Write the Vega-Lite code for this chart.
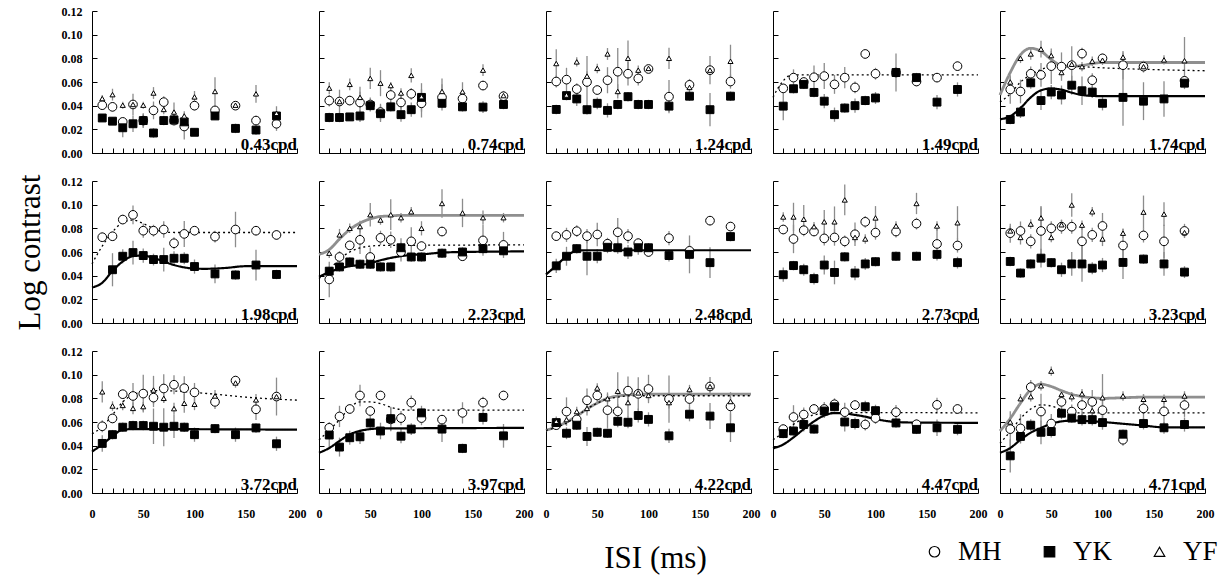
{
"$schema":"https://vega.github.io/schema/vega-lite/v6.json",
"background":"white",
"padding":{"left":14,"top":5,"right":5,"bottom":5},
"datasets":{
"labs":[{"p":1,"t":"0.43cpd"},{"p":2,"t":"0.74cpd"},{"p":3,"t":"1.24cpd"},{"p":4,"t":"1.49cpd"},{"p":5,"t":"1.74cpd"},{"p":6,"t":"1.98cpd"},{"p":7,"t":"2.23cpd"},{"p":8,"t":"2.48cpd"},{"p":9,"t":"2.73cpd"},{"p":10,"t":"3.23cpd"},{"p":11,"t":"3.72cpd"},{"p":12,"t":"3.97cpd"},{"p":13,"t":"4.22cpd"},{"p":14,"t":"4.47cpd"},{"p":15,"t":"4.71cpd"}],
"fit":[
{"p":4,"s":"MH","x":0,"y":0.047},{"p":4,"s":"MH","x":5,"y":0.055},{"p":4,"s":"MH","x":10,"y":0.061},{"p":4,"s":"MH","x":15,"y":0.065},{"p":4,"s":"MH","x":20,"y":0.066},{"p":4,"s":"MH","x":30,"y":0.066},{"p":4,"s":"MH","x":200,"y":0.066},
{"p":5,"s":"YF","x":0,"y":0.049},{"p":5,"s":"YF","x":10,"y":0.068},{"p":5,"s":"YF","x":20,"y":0.083},{"p":5,"s":"YF","x":30,"y":0.0885},{"p":5,"s":"YF","x":40,"y":0.086},{"p":5,"s":"YF","x":50,"y":0.079},{"p":5,"s":"YF","x":60,"y":0.074},{"p":5,"s":"YF","x":70,"y":0.073},{"p":5,"s":"YF","x":80,"y":0.074},{"p":5,"s":"YF","x":100,"y":0.0765},{"p":5,"s":"YF","x":120,"y":0.0765},{"p":5,"s":"YF","x":200,"y":0.0765},
{"p":5,"s":"MH","x":0,"y":0.043},{"p":5,"s":"MH","x":10,"y":0.05},{"p":5,"s":"MH","x":20,"y":0.06},{"p":5,"s":"MH","x":30,"y":0.066},{"p":5,"s":"MH","x":40,"y":0.0705},{"p":5,"s":"MH","x":50,"y":0.073},{"p":5,"s":"MH","x":60,"y":0.0735},{"p":5,"s":"MH","x":70,"y":0.0735},{"p":5,"s":"MH","x":80,"y":0.073},{"p":5,"s":"MH","x":100,"y":0.072},{"p":5,"s":"MH","x":150,"y":0.0705},{"p":5,"s":"MH","x":200,"y":0.0695},
{"p":5,"s":"YK","x":0,"y":0.0285},{"p":5,"s":"YK","x":10,"y":0.031},{"p":5,"s":"YK","x":20,"y":0.038},{"p":5,"s":"YK","x":30,"y":0.047},{"p":5,"s":"YK","x":40,"y":0.053},{"p":5,"s":"YK","x":50,"y":0.0545},{"p":5,"s":"YK","x":60,"y":0.0535},{"p":5,"s":"YK","x":70,"y":0.051},{"p":5,"s":"YK","x":80,"y":0.049},{"p":5,"s":"YK","x":90,"y":0.0483},{"p":5,"s":"YK","x":100,"y":0.048},{"p":5,"s":"YK","x":200,"y":0.048},
{"p":6,"s":"MH","x":0,"y":0.05},{"p":6,"s":"MH","x":10,"y":0.065},{"p":6,"s":"MH","x":20,"y":0.077},{"p":6,"s":"MH","x":30,"y":0.085},{"p":6,"s":"MH","x":40,"y":0.087},{"p":6,"s":"MH","x":50,"y":0.084},{"p":6,"s":"MH","x":60,"y":0.08},{"p":6,"s":"MH","x":70,"y":0.077},{"p":6,"s":"MH","x":80,"y":0.0765},{"p":6,"s":"MH","x":100,"y":0.0765},{"p":6,"s":"MH","x":200,"y":0.0765},
{"p":6,"s":"YK","x":0,"y":0.03},{"p":6,"s":"YK","x":10,"y":0.034},{"p":6,"s":"YK","x":20,"y":0.044},{"p":6,"s":"YK","x":30,"y":0.052},{"p":6,"s":"YK","x":40,"y":0.0565},{"p":6,"s":"YK","x":50,"y":0.057},{"p":6,"s":"YK","x":60,"y":0.055},{"p":6,"s":"YK","x":70,"y":0.052},{"p":6,"s":"YK","x":80,"y":0.049},{"p":6,"s":"YK","x":90,"y":0.047},{"p":6,"s":"YK","x":100,"y":0.046},{"p":6,"s":"YK","x":110,"y":0.0458},{"p":6,"s":"YK","x":130,"y":0.0465},{"p":6,"s":"YK","x":150,"y":0.048},{"p":6,"s":"YK","x":200,"y":0.048},
{"p":7,"s":"YF","x":0,"y":0.058},{"p":7,"s":"YF","x":10,"y":0.062},{"p":7,"s":"YF","x":20,"y":0.071},{"p":7,"s":"YF","x":30,"y":0.079},{"p":7,"s":"YF","x":40,"y":0.0845},{"p":7,"s":"YF","x":50,"y":0.088},{"p":7,"s":"YF","x":60,"y":0.09},{"p":7,"s":"YF","x":70,"y":0.0905},{"p":7,"s":"YF","x":80,"y":0.091},{"p":7,"s":"YF","x":200,"y":0.091},
{"p":7,"s":"MH","x":0,"y":0.0377},{"p":7,"s":"MH","x":10,"y":0.045},{"p":7,"s":"MH","x":20,"y":0.054},{"p":7,"s":"MH","x":30,"y":0.06},{"p":7,"s":"MH","x":40,"y":0.0635},{"p":7,"s":"MH","x":50,"y":0.065},{"p":7,"s":"MH","x":60,"y":0.0655},{"p":7,"s":"MH","x":200,"y":0.066},
{"p":7,"s":"YK","x":0,"y":0.039},{"p":7,"s":"YK","x":10,"y":0.043},{"p":7,"s":"YK","x":20,"y":0.046},{"p":7,"s":"YK","x":30,"y":0.048},{"p":7,"s":"YK","x":40,"y":0.049},{"p":7,"s":"YK","x":50,"y":0.0505},{"p":7,"s":"YK","x":60,"y":0.053},{"p":7,"s":"YK","x":70,"y":0.055},{"p":7,"s":"YK","x":80,"y":0.0565},{"p":7,"s":"YK","x":90,"y":0.0575},{"p":7,"s":"YK","x":100,"y":0.058},{"p":7,"s":"YK","x":120,"y":0.0595},{"p":7,"s":"YK","x":140,"y":0.06},{"p":7,"s":"YK","x":200,"y":0.0605},
{"p":8,"s":"YK","x":0,"y":0.041},{"p":8,"s":"YK","x":10,"y":0.0485},{"p":8,"s":"YK","x":20,"y":0.0565},{"p":8,"s":"YK","x":30,"y":0.061},{"p":8,"s":"YK","x":40,"y":0.0615},{"p":8,"s":"YK","x":200,"y":0.0615},
{"p":11,"s":"MH","x":0,"y":0.05},{"p":11,"s":"MH","x":10,"y":0.056},{"p":11,"s":"MH","x":20,"y":0.066},{"p":11,"s":"MH","x":30,"y":0.077},{"p":11,"s":"MH","x":40,"y":0.083},{"p":11,"s":"MH","x":50,"y":0.0855},{"p":11,"s":"MH","x":60,"y":0.0865},{"p":11,"s":"MH","x":70,"y":0.0865},{"p":11,"s":"MH","x":80,"y":0.0862},{"p":11,"s":"MH","x":100,"y":0.085},{"p":11,"s":"MH","x":120,"y":0.0835},{"p":11,"s":"MH","x":150,"y":0.081},{"p":11,"s":"MH","x":200,"y":0.0785},
{"p":11,"s":"YK","x":0,"y":0.035},{"p":11,"s":"YK","x":10,"y":0.041},{"p":11,"s":"YK","x":20,"y":0.048},{"p":11,"s":"YK","x":30,"y":0.0535},{"p":11,"s":"YK","x":40,"y":0.054},{"p":11,"s":"YK","x":200,"y":0.0535},
{"p":12,"s":"MH","x":0,"y":0.045},{"p":12,"s":"MH","x":10,"y":0.053},{"p":12,"s":"MH","x":20,"y":0.062},{"p":12,"s":"MH","x":30,"y":0.072},{"p":12,"s":"MH","x":40,"y":0.077},{"p":12,"s":"MH","x":50,"y":0.077},{"p":12,"s":"MH","x":60,"y":0.0755},{"p":12,"s":"MH","x":70,"y":0.0725},{"p":12,"s":"MH","x":80,"y":0.0705},{"p":12,"s":"MH","x":90,"y":0.07},{"p":12,"s":"MH","x":200,"y":0.07},
{"p":12,"s":"YK","x":0,"y":0.034},{"p":12,"s":"YK","x":10,"y":0.038},{"p":12,"s":"YK","x":20,"y":0.044},{"p":12,"s":"YK","x":30,"y":0.0495},{"p":12,"s":"YK","x":40,"y":0.0525},{"p":12,"s":"YK","x":50,"y":0.054},{"p":12,"s":"YK","x":60,"y":0.0545},{"p":12,"s":"YK","x":200,"y":0.055},
{"p":13,"s":"YF","x":0,"y":0.053},{"p":13,"s":"YF","x":10,"y":0.056},{"p":13,"s":"YF","x":20,"y":0.06},{"p":13,"s":"YF","x":30,"y":0.065},{"p":13,"s":"YF","x":40,"y":0.071},{"p":13,"s":"YF","x":50,"y":0.076},{"p":13,"s":"YF","x":60,"y":0.08},{"p":13,"s":"YF","x":70,"y":0.082},{"p":13,"s":"YF","x":80,"y":0.083},{"p":13,"s":"YF","x":90,"y":0.0835},{"p":13,"s":"YF","x":200,"y":0.0835},
{"p":13,"s":"MH","x":0,"y":0.053},{"p":13,"s":"MH","x":10,"y":0.0555},{"p":13,"s":"MH","x":20,"y":0.059},{"p":13,"s":"MH","x":30,"y":0.065},{"p":13,"s":"MH","x":40,"y":0.071},{"p":13,"s":"MH","x":50,"y":0.076},{"p":13,"s":"MH","x":60,"y":0.0795},{"p":13,"s":"MH","x":70,"y":0.081},{"p":13,"s":"MH","x":80,"y":0.082},{"p":13,"s":"MH","x":100,"y":0.0822},{"p":13,"s":"MH","x":200,"y":0.0822},
{"p":14,"s":"MH","x":0,"y":0.045},{"p":14,"s":"MH","x":10,"y":0.051},{"p":14,"s":"MH","x":20,"y":0.058},{"p":14,"s":"MH","x":30,"y":0.063},{"p":14,"s":"MH","x":40,"y":0.066},{"p":14,"s":"MH","x":50,"y":0.0675},{"p":14,"s":"MH","x":60,"y":0.068},{"p":14,"s":"MH","x":200,"y":0.0677},
{"p":14,"s":"YK","x":0,"y":0.0377},{"p":14,"s":"YK","x":10,"y":0.041},{"p":14,"s":"YK","x":20,"y":0.047},{"p":14,"s":"YK","x":30,"y":0.054},{"p":14,"s":"YK","x":40,"y":0.0605},{"p":14,"s":"YK","x":50,"y":0.0655},{"p":14,"s":"YK","x":60,"y":0.0675},{"p":14,"s":"YK","x":70,"y":0.0672},{"p":14,"s":"YK","x":80,"y":0.066},{"p":14,"s":"YK","x":90,"y":0.0645},{"p":14,"s":"YK","x":100,"y":0.0625},{"p":14,"s":"YK","x":120,"y":0.06},{"p":14,"s":"YK","x":140,"y":0.0595},{"p":14,"s":"YK","x":200,"y":0.0593},
{"p":15,"s":"YF","x":0,"y":0.0524},{"p":15,"s":"YF","x":10,"y":0.063},{"p":15,"s":"YF","x":20,"y":0.076},{"p":15,"s":"YF","x":30,"y":0.0875},{"p":15,"s":"YF","x":40,"y":0.092},{"p":15,"s":"YF","x":50,"y":0.09},{"p":15,"s":"YF","x":60,"y":0.0865},{"p":15,"s":"YF","x":70,"y":0.0835},{"p":15,"s":"YF","x":80,"y":0.0815},{"p":15,"s":"YF","x":90,"y":0.0805},{"p":15,"s":"YF","x":100,"y":0.08},{"p":15,"s":"YF","x":120,"y":0.0805},{"p":15,"s":"YF","x":140,"y":0.081},{"p":15,"s":"YF","x":200,"y":0.081},
{"p":15,"s":"MH","x":0,"y":0.042},{"p":15,"s":"MH","x":10,"y":0.052},{"p":15,"s":"MH","x":20,"y":0.063},{"p":15,"s":"MH","x":30,"y":0.071},{"p":15,"s":"MH","x":40,"y":0.0745},{"p":15,"s":"MH","x":50,"y":0.0735},{"p":15,"s":"MH","x":60,"y":0.0705},{"p":15,"s":"MH","x":70,"y":0.068},{"p":15,"s":"MH","x":80,"y":0.0677},{"p":15,"s":"MH","x":200,"y":0.0677},
{"p":15,"s":"YK","x":0,"y":0.034},{"p":15,"s":"YK","x":10,"y":0.038},{"p":15,"s":"YK","x":20,"y":0.045},{"p":15,"s":"YK","x":30,"y":0.051},{"p":15,"s":"YK","x":40,"y":0.055},{"p":15,"s":"YK","x":50,"y":0.0585},{"p":15,"s":"YK","x":60,"y":0.0605},{"p":15,"s":"YK","x":70,"y":0.0612},{"p":15,"s":"YK","x":80,"y":0.061},{"p":15,"s":"YK","x":100,"y":0.06},{"p":15,"s":"YK","x":120,"y":0.0585},{"p":15,"s":"YK","x":140,"y":0.057},{"p":15,"s":"YK","x":160,"y":0.0555},{"p":15,"s":"YK","x":200,"y":0.0555}
],
"pts":[
{"p":1,"s":"MH","x":10,"y":0.0404,"e":0.004},{"p":1,"s":"MH","x":20,"y":0.039,"e":0.004},{"p":1,"s":"MH","x":30,"y":0.0263,"e":0.003},{"p":1,"s":"MH","x":40,"y":0.041,"e":0.009},{"p":1,"s":"MH","x":50,"y":0.0274,"e":0.006},{"p":1,"s":"MH","x":60,"y":0.036,"e":0.0075},{"p":1,"s":"MH","x":70,"y":0.043,"e":0.005},{"p":1,"s":"MH","x":80,"y":0.0274,"e":0.004},{"p":1,"s":"MH","x":90,"y":0.0224,"e":0.011},{"p":1,"s":"MH","x":100,"y":0.04,"e":0.004},{"p":1,"s":"MH","x":120,"y":0.036,"e":0.004},{"p":1,"s":"MH","x":140,"y":0.04,"e":0.003},{"p":1,"s":"MH","x":160,"y":0.0274,"e":0.004},{"p":1,"s":"MH","x":180,"y":0.0247,"e":0.006},
{"p":1,"s":"YK","x":10,"y":0.0296,"e":0.003},{"p":1,"s":"YK","x":20,"y":0.0269,"e":0.003},{"p":1,"s":"YK","x":30,"y":0.0213,"e":0.008},{"p":1,"s":"YK","x":40,"y":0.0247,"e":0.007},{"p":1,"s":"YK","x":50,"y":0.0274,"e":0.006},{"p":1,"s":"YK","x":60,"y":0.0169,"e":0.004},{"p":1,"s":"YK","x":70,"y":0.0274,"e":0.004},{"p":1,"s":"YK","x":80,"y":0.028,"e":0.004},{"p":1,"s":"YK","x":90,"y":0.0263,"e":0.004},{"p":1,"s":"YK","x":100,"y":0.0175,"e":0.003},{"p":1,"s":"YK","x":120,"y":0.0313,"e":0.003},{"p":1,"s":"YK","x":140,"y":0.0208,"e":0.004},{"p":1,"s":"YK","x":160,"y":0.0194,"e":0.004},{"p":1,"s":"YK","x":180,"y":0.0313,"e":0.004},
{"p":1,"s":"YF","x":10,"y":0.046,"e":0.003},{"p":1,"s":"YF","x":20,"y":0.0493,"e":0.005},{"p":1,"s":"YF","x":30,"y":0.0404,"e":0.003},{"p":1,"s":"YF","x":40,"y":0.041,"e":0.003},{"p":1,"s":"YF","x":50,"y":0.0404,"e":0.003},{"p":1,"s":"YF","x":60,"y":0.0507,"e":0.005},{"p":1,"s":"YF","x":70,"y":0.0368,"e":0.004},{"p":1,"s":"YF","x":80,"y":0.0346,"e":0.008},{"p":1,"s":"YF","x":90,"y":0.0313,"e":0.004},{"p":1,"s":"YF","x":100,"y":0.0474,"e":0.005},{"p":1,"s":"YF","x":120,"y":0.052,"e":0.012},{"p":1,"s":"YF","x":140,"y":0.0404,"e":0.003},{"p":1,"s":"YF","x":160,"y":0.05,"e":0.0075},{"p":1,"s":"YF","x":180,"y":0.0335,"e":0.006},
{"p":2,"s":"MH","x":10,"y":0.0443,"e":0.005},{"p":2,"s":"MH","x":20,"y":0.0435,"e":0.01},{"p":2,"s":"MH","x":30,"y":0.0443,"e":0.004},{"p":2,"s":"MH","x":40,"y":0.0427,"e":0.009},{"p":2,"s":"MH","x":50,"y":0.041,"e":0.006},{"p":2,"s":"MH","x":60,"y":0.0346,"e":0.007},{"p":2,"s":"MH","x":70,"y":0.049,"e":0.006},{"p":2,"s":"MH","x":80,"y":0.0427,"e":0.006},{"p":2,"s":"MH","x":90,"y":0.05,"e":0.005},{"p":2,"s":"MH","x":100,"y":0.042,"e":0.012},{"p":2,"s":"MH","x":120,"y":0.047,"e":0.011},{"p":2,"s":"MH","x":140,"y":0.046,"e":0.005},{"p":2,"s":"MH","x":160,"y":0.057,"e":0.004},{"p":2,"s":"MH","x":180,"y":0.048,"e":0.004},
{"p":2,"s":"YK","x":10,"y":0.03,"e":0.004},{"p":2,"s":"YK","x":20,"y":0.03,"e":0.004},{"p":2,"s":"YK","x":30,"y":0.0305,"e":0.003},{"p":2,"s":"YK","x":40,"y":0.0313,"e":0.005},{"p":2,"s":"YK","x":50,"y":0.04,"e":0.004},{"p":2,"s":"YK","x":60,"y":0.0332,"e":0.007},{"p":2,"s":"YK","x":70,"y":0.039,"e":0.004},{"p":2,"s":"YK","x":80,"y":0.0324,"e":0.006},{"p":2,"s":"YK","x":90,"y":0.0366,"e":0.006},{"p":2,"s":"YK","x":100,"y":0.047,"e":0.012},{"p":2,"s":"YK","x":120,"y":0.042,"e":0.004},{"p":2,"s":"YK","x":140,"y":0.039,"e":0.004},{"p":2,"s":"YK","x":160,"y":0.0388,"e":0.005},{"p":2,"s":"YK","x":180,"y":0.041,"e":0.004},
{"p":2,"s":"YF","x":10,"y":0.0548,"e":0.005},{"p":2,"s":"YF","x":20,"y":0.0435,"e":0.003},{"p":2,"s":"YF","x":30,"y":0.058,"e":0.005},{"p":2,"s":"YF","x":40,"y":0.047,"e":0.009},{"p":2,"s":"YF","x":50,"y":0.063,"e":0.009},{"p":2,"s":"YF","x":60,"y":0.059,"e":0.011},{"p":2,"s":"YF","x":70,"y":0.057,"e":0.003},{"p":2,"s":"YF","x":80,"y":0.0507,"e":0.004},{"p":2,"s":"YF","x":90,"y":0.0656,"e":0.006},{"p":2,"s":"YF","x":100,"y":0.0476,"e":0.003},{"p":2,"s":"YF","x":120,"y":0.052,"e":0.011},{"p":2,"s":"YF","x":140,"y":0.0518,"e":0.008},{"p":2,"s":"YF","x":160,"y":0.07,"e":0.005},{"p":2,"s":"YF","x":180,"y":0.0485,"e":0.004},
{"p":3,"s":"MH","x":10,"y":0.0604,"e":0.005},{"p":3,"s":"MH","x":20,"y":0.062,"e":0.01},{"p":3,"s":"MH","x":30,"y":0.054,"e":0.005},{"p":3,"s":"MH","x":40,"y":0.06,"e":0.022},{"p":3,"s":"MH","x":50,"y":0.0532,"e":0.004},{"p":3,"s":"MH","x":60,"y":0.0615,"e":0.011},{"p":3,"s":"MH","x":70,"y":0.0687,"e":0.02},{"p":3,"s":"MH","x":80,"y":0.067,"e":0.01},{"p":3,"s":"MH","x":90,"y":0.063,"e":0.006},{"p":3,"s":"MH","x":100,"y":0.071,"e":0.002},{"p":3,"s":"MH","x":120,"y":0.0476,"e":0.014},{"p":3,"s":"MH","x":140,"y":0.0576,"e":0.005},{"p":3,"s":"MH","x":160,"y":0.07,"e":0.012},{"p":3,"s":"MH","x":180,"y":0.0604,"e":0.006},
{"p":3,"s":"YK","x":10,"y":0.0368,"e":0.004},{"p":3,"s":"YK","x":20,"y":0.0485,"e":0.004},{"p":3,"s":"YK","x":30,"y":0.0457,"e":0.006},{"p":3,"s":"YK","x":40,"y":0.0366,"e":0.004},{"p":3,"s":"YK","x":50,"y":0.042,"e":0.005},{"p":3,"s":"YK","x":60,"y":0.036,"e":0.006},{"p":3,"s":"YK","x":70,"y":0.041,"e":0.004},{"p":3,"s":"YK","x":80,"y":0.0476,"e":0.004},{"p":3,"s":"YK","x":90,"y":0.041,"e":0.004},{"p":3,"s":"YK","x":100,"y":0.041,"e":0.004},{"p":3,"s":"YK","x":120,"y":0.0396,"e":0.005},{"p":3,"s":"YK","x":140,"y":0.048,"e":0.004},{"p":3,"s":"YK","x":160,"y":0.0366,"e":0.014},{"p":3,"s":"YK","x":180,"y":0.048,"e":0.004},
{"p":3,"s":"YF","x":10,"y":0.0756,"e":0.012},{"p":3,"s":"YF","x":20,"y":0.049,"e":0.003},{"p":3,"s":"YF","x":30,"y":0.077,"e":0.004},{"p":3,"s":"YF","x":40,"y":0.065,"e":0.004},{"p":3,"s":"YF","x":50,"y":0.0715,"e":0.004},{"p":3,"s":"YF","x":60,"y":0.0837,"e":0.005},{"p":3,"s":"YF","x":70,"y":0.052,"e":0.006},{"p":3,"s":"YF","x":80,"y":0.08,"e":0.015},{"p":3,"s":"YF","x":90,"y":0.07,"e":0.004},{"p":3,"s":"YF","x":100,"y":0.0715,"e":0.002},{"p":3,"s":"YF","x":120,"y":0.08,"e":0.009},{"p":3,"s":"YF","x":140,"y":0.0554,"e":0.004},{"p":3,"s":"YF","x":160,"y":0.07,"e":0.004},{"p":3,"s":"YF","x":180,"y":0.0775,"e":0.014},
{"p":4,"s":"MH","x":10,"y":0.0546,"e":0.004},{"p":4,"s":"MH","x":20,"y":0.0637,"e":0.007},{"p":4,"s":"MH","x":30,"y":0.06,"e":0.004},{"p":4,"s":"MH","x":40,"y":0.064,"e":0.01},{"p":4,"s":"MH","x":50,"y":0.065,"e":0.011},{"p":4,"s":"MH","x":60,"y":0.058,"e":0.008},{"p":4,"s":"MH","x":70,"y":0.0637,"e":0.009},{"p":4,"s":"MH","x":80,"y":0.0554,"e":0.005},{"p":4,"s":"MH","x":90,"y":0.0837,"e":0.004},{"p":4,"s":"MH","x":100,"y":0.067,"e":0.005},{"p":4,"s":"MH","x":120,"y":0.068,"e":0.004},{"p":4,"s":"MH","x":140,"y":0.0604,"e":0.004},{"p":4,"s":"MH","x":160,"y":0.0637,"e":0.004},{"p":4,"s":"MH","x":180,"y":0.0734,"e":0.004},
{"p":4,"s":"YK","x":10,"y":0.0396,"e":0.012},{"p":4,"s":"YK","x":20,"y":0.0543,"e":0.004},{"p":4,"s":"YK","x":30,"y":0.058,"e":0.004},{"p":4,"s":"YK","x":40,"y":0.0512,"e":0.004},{"p":4,"s":"YK","x":50,"y":0.0438,"e":0.006},{"p":4,"s":"YK","x":60,"y":0.0324,"e":0.006},{"p":4,"s":"YK","x":70,"y":0.038,"e":0.004},{"p":4,"s":"YK","x":80,"y":0.04,"e":0.006},{"p":4,"s":"YK","x":90,"y":0.0443,"e":0.004},{"p":4,"s":"YK","x":100,"y":0.0465,"e":0.005},{"p":4,"s":"YK","x":120,"y":0.068,"e":0.016},{"p":4,"s":"YK","x":140,"y":0.0637,"e":0.004},{"p":4,"s":"YK","x":160,"y":0.043,"e":0.006},{"p":4,"s":"YK","x":180,"y":0.0537,"e":0.006},
{"p":5,"s":"MH","x":10,"y":0.0537,"e":0.012},{"p":5,"s":"MH","x":20,"y":0.052,"e":0.01},{"p":5,"s":"MH","x":30,"y":0.067,"e":0.006},{"p":5,"s":"MH","x":40,"y":0.066,"e":0.01},{"p":5,"s":"MH","x":50,"y":0.0734,"e":0.015},{"p":5,"s":"MH","x":60,"y":0.073,"e":0.012},{"p":5,"s":"MH","x":70,"y":0.0742,"e":0.016},{"p":5,"s":"MH","x":80,"y":0.084,"e":0.005},{"p":5,"s":"MH","x":90,"y":0.0615,"e":0.006},{"p":5,"s":"MH","x":100,"y":0.08,"e":0.004},{"p":5,"s":"MH","x":120,"y":0.0742,"e":0.012},{"p":5,"s":"MH","x":140,"y":0.073,"e":0.005},{"p":5,"s":"MH","x":180,"y":0.061,"e":0.004},
{"p":5,"s":"YK","x":10,"y":0.0283,"e":0.004},{"p":5,"s":"YK","x":20,"y":0.0346,"e":0.005},{"p":5,"s":"YK","x":30,"y":0.0593,"e":0.005},{"p":5,"s":"YK","x":40,"y":0.0443,"e":0.008},{"p":5,"s":"YK","x":50,"y":0.0515,"e":0.006},{"p":5,"s":"YK","x":60,"y":0.049,"e":0.008},{"p":5,"s":"YK","x":70,"y":0.0573,"e":0.008},{"p":5,"s":"YK","x":80,"y":0.0526,"e":0.012},{"p":5,"s":"YK","x":90,"y":0.0515,"e":0.005},{"p":5,"s":"YK","x":100,"y":0.042,"e":0.006},{"p":5,"s":"YK","x":120,"y":0.047,"e":0.024},{"p":5,"s":"YK","x":140,"y":0.0438,"e":0.016},{"p":5,"s":"YK","x":160,"y":0.0457,"e":0.015},{"p":5,"s":"YK","x":180,"y":0.059,"e":0.005},
{"p":5,"s":"YF","x":10,"y":0.06,"e":0.004},{"p":5,"s":"YF","x":20,"y":0.08,"e":0.004},{"p":5,"s":"YF","x":30,"y":0.0837,"e":0.005},{"p":5,"s":"YF","x":40,"y":0.0878,"e":0.007},{"p":5,"s":"YF","x":50,"y":0.0823,"e":0.004},{"p":5,"s":"YF","x":60,"y":0.068,"e":0.004},{"p":5,"s":"YF","x":70,"y":0.075,"e":0.004},{"p":5,"s":"YF","x":80,"y":0.073,"e":0.004},{"p":5,"s":"YF","x":90,"y":0.0776,"e":0.004},{"p":5,"s":"YF","x":100,"y":0.0784,"e":0.004},{"p":5,"s":"YF","x":120,"y":0.081,"e":0.004},{"p":5,"s":"YF","x":140,"y":0.073,"e":0.004},{"p":5,"s":"YF","x":160,"y":0.0787,"e":0.004},{"p":5,"s":"YF","x":180,"y":0.078,"e":0.02},
{"p":6,"s":"MH","x":10,"y":0.0725,"e":0.004},{"p":6,"s":"MH","x":20,"y":0.0733,"e":0.004},{"p":6,"s":"MH","x":30,"y":0.0874,"e":0.004},{"p":6,"s":"MH","x":40,"y":0.0914,"e":0.008},{"p":6,"s":"MH","x":50,"y":0.078,"e":0.006},{"p":6,"s":"MH","x":60,"y":0.078,"e":0.005},{"p":6,"s":"MH","x":70,"y":0.079,"e":0.007},{"p":6,"s":"MH","x":80,"y":0.0674,"e":0.005},{"p":6,"s":"MH","x":90,"y":0.0753,"e":0.011},{"p":6,"s":"MH","x":100,"y":0.078,"e":0.004},{"p":6,"s":"MH","x":120,"y":0.073,"e":0.005},{"p":6,"s":"MH","x":140,"y":0.079,"e":0.015},{"p":6,"s":"MH","x":160,"y":0.078,"e":0.004},{"p":6,"s":"MH","x":180,"y":0.0744,"e":0.004},
{"p":6,"s":"YK","x":20,"y":0.045,"e":0.014},{"p":6,"s":"YK","x":30,"y":0.0564,"e":0.006},{"p":6,"s":"YK","x":40,"y":0.0595,"e":0.01},{"p":6,"s":"YK","x":50,"y":0.057,"e":0.006},{"p":6,"s":"YK","x":60,"y":0.0536,"e":0.005},{"p":6,"s":"YK","x":70,"y":0.0536,"e":0.01},{"p":6,"s":"YK","x":80,"y":0.0547,"e":0.006},{"p":6,"s":"YK","x":90,"y":0.0547,"e":0.005},{"p":6,"s":"YK","x":100,"y":0.0477,"e":0.006},{"p":6,"s":"YK","x":120,"y":0.0415,"e":0.008},{"p":6,"s":"YK","x":140,"y":0.0406,"e":0.004},{"p":6,"s":"YK","x":160,"y":0.049,"e":0.013},{"p":6,"s":"YK","x":180,"y":0.041,"e":0.004},
{"p":7,"s":"MH","x":10,"y":0.0368,"e":0.015},{"p":7,"s":"MH","x":20,"y":0.0558,"e":0.005},{"p":7,"s":"MH","x":30,"y":0.0656,"e":0.004},{"p":7,"s":"MH","x":40,"y":0.0703,"e":0.012},{"p":7,"s":"MH","x":50,"y":0.0558,"e":0.008},{"p":7,"s":"MH","x":60,"y":0.072,"e":0.006},{"p":7,"s":"MH","x":70,"y":0.0703,"e":0.007},{"p":7,"s":"MH","x":80,"y":0.06,"e":0.008},{"p":7,"s":"MH","x":90,"y":0.069,"e":0.012},{"p":7,"s":"MH","x":100,"y":0.065,"e":0.004},{"p":7,"s":"MH","x":120,"y":0.0773,"e":0.004},{"p":7,"s":"MH","x":140,"y":0.0564,"e":0.004},{"p":7,"s":"MH","x":160,"y":0.0698,"e":0.013},{"p":7,"s":"MH","x":180,"y":0.066,"e":0.011},
{"p":7,"s":"YK","x":10,"y":0.0438,"e":0.004},{"p":7,"s":"YK","x":20,"y":0.0474,"e":0.004},{"p":7,"s":"YK","x":30,"y":0.0516,"e":0.004},{"p":7,"s":"YK","x":40,"y":0.0497,"e":0.004},{"p":7,"s":"YK","x":50,"y":0.0497,"e":0.004},{"p":7,"s":"YK","x":60,"y":0.0474,"e":0.004},{"p":7,"s":"YK","x":70,"y":0.0474,"e":0.004},{"p":7,"s":"YK","x":80,"y":0.0636,"e":0.008},{"p":7,"s":"YK","x":90,"y":0.0558,"e":0.004},{"p":7,"s":"YK","x":100,"y":0.0558,"e":0.004},{"p":7,"s":"YK","x":120,"y":0.059,"e":0.004},{"p":7,"s":"YK","x":140,"y":0.06,"e":0.004},{"p":7,"s":"YK","x":160,"y":0.0628,"e":0.004},{"p":7,"s":"YK","x":180,"y":0.061,"e":0.004},
{"p":7,"s":"YF","x":10,"y":0.059,"e":0.004},{"p":7,"s":"YF","x":20,"y":0.0745,"e":0.005},{"p":7,"s":"YF","x":30,"y":0.08,"e":0.004},{"p":7,"s":"YF","x":40,"y":0.0815,"e":0.005},{"p":7,"s":"YF","x":50,"y":0.0915,"e":0.01},{"p":7,"s":"YF","x":60,"y":0.087,"e":0.004},{"p":7,"s":"YF","x":70,"y":0.0915,"e":0.013},{"p":7,"s":"YF","x":80,"y":0.089,"e":0.004},{"p":7,"s":"YF","x":90,"y":0.094,"e":0.004},{"p":7,"s":"YF","x":100,"y":0.08,"e":0.006},{"p":7,"s":"YF","x":120,"y":0.101,"e":0.012},{"p":7,"s":"YF","x":140,"y":0.093,"e":0.012},{"p":7,"s":"YF","x":160,"y":0.089,"e":0.006},{"p":7,"s":"YF","x":180,"y":0.089,"e":0.004},
{"p":8,"s":"MH","x":10,"y":0.0734,"e":0.004},{"p":8,"s":"MH","x":20,"y":0.0745,"e":0.006},{"p":8,"s":"MH","x":30,"y":0.0776,"e":0.005},{"p":8,"s":"MH","x":40,"y":0.0734,"e":0.006},{"p":8,"s":"MH","x":50,"y":0.0748,"e":0.01},{"p":8,"s":"MH","x":60,"y":0.067,"e":0.005},{"p":8,"s":"MH","x":70,"y":0.0767,"e":0.012},{"p":8,"s":"MH","x":80,"y":0.0734,"e":0.006},{"p":8,"s":"MH","x":90,"y":0.0675,"e":0.004},{"p":8,"s":"MH","x":100,"y":0.06,"e":0.004},{"p":8,"s":"MH","x":120,"y":0.0717,"e":0.006},{"p":8,"s":"MH","x":140,"y":0.061,"e":0.005},{"p":8,"s":"MH","x":160,"y":0.0865,"e":0.004},{"p":8,"s":"MH","x":180,"y":0.0815,"e":0.004},
{"p":8,"s":"YK","x":10,"y":0.0483,"e":0.006},{"p":8,"s":"YK","x":20,"y":0.0564,"e":0.008},{"p":8,"s":"YK","x":30,"y":0.0628,"e":0.004},{"p":8,"s":"YK","x":40,"y":0.0564,"e":0.016},{"p":8,"s":"YK","x":50,"y":0.0564,"e":0.006},{"p":8,"s":"YK","x":60,"y":0.064,"e":0.005},{"p":8,"s":"YK","x":70,"y":0.0636,"e":0.005},{"p":8,"s":"YK","x":80,"y":0.06,"e":0.006},{"p":8,"s":"YK","x":90,"y":0.0636,"e":0.006},{"p":8,"s":"YK","x":100,"y":0.0636,"e":0.004},{"p":8,"s":"YK","x":120,"y":0.057,"e":0.005},{"p":8,"s":"YK","x":140,"y":0.058,"e":0.016},{"p":8,"s":"YK","x":160,"y":0.051,"e":0.013},{"p":8,"s":"YK","x":180,"y":0.073,"e":0.004},
{"p":9,"s":"MH","x":10,"y":0.079,"e":0.004},{"p":9,"s":"MH","x":20,"y":0.071,"e":0.012},{"p":9,"s":"MH","x":30,"y":0.0784,"e":0.005},{"p":9,"s":"MH","x":40,"y":0.0773,"e":0.004},{"p":9,"s":"MH","x":50,"y":0.0715,"e":0.006},{"p":9,"s":"MH","x":60,"y":0.0723,"e":0.007},{"p":9,"s":"MH","x":70,"y":0.069,"e":0.005},{"p":9,"s":"MH","x":80,"y":0.075,"e":0.01},{"p":9,"s":"MH","x":90,"y":0.0855,"e":0.005},{"p":9,"s":"MH","x":100,"y":0.0764,"e":0.006},{"p":9,"s":"MH","x":120,"y":0.0773,"e":0.005},{"p":9,"s":"MH","x":140,"y":0.084,"e":0.005},{"p":9,"s":"MH","x":160,"y":0.0668,"e":0.014},{"p":9,"s":"MH","x":180,"y":0.0655,"e":0.006},
{"p":9,"s":"YK","x":10,"y":0.0408,"e":0.006},{"p":9,"s":"YK","x":20,"y":0.0485,"e":0.004},{"p":9,"s":"YK","x":30,"y":0.045,"e":0.005},{"p":9,"s":"YK","x":40,"y":0.0375,"e":0.005},{"p":9,"s":"YK","x":50,"y":0.049,"e":0.008},{"p":9,"s":"YK","x":60,"y":0.0427,"e":0.01},{"p":9,"s":"YK","x":70,"y":0.0559,"e":0.004},{"p":9,"s":"YK","x":80,"y":0.0422,"e":0.006},{"p":9,"s":"YK","x":90,"y":0.0499,"e":0.005},{"p":9,"s":"YK","x":100,"y":0.0518,"e":0.004},{"p":9,"s":"YK","x":120,"y":0.0564,"e":0.004},{"p":9,"s":"YK","x":140,"y":0.0564,"e":0.004},{"p":9,"s":"YK","x":160,"y":0.058,"e":0.004},{"p":9,"s":"YK","x":180,"y":0.051,"e":0.005},
{"p":9,"s":"YF","x":10,"y":0.0896,"e":0.004},{"p":9,"s":"YF","x":20,"y":0.0896,"e":0.012},{"p":9,"s":"YF","x":30,"y":0.0877,"e":0.012},{"p":9,"s":"YF","x":40,"y":0.0814,"e":0.004},{"p":9,"s":"YF","x":50,"y":0.0855,"e":0.01},{"p":9,"s":"YF","x":60,"y":0.0855,"e":0.013},{"p":9,"s":"YF","x":70,"y":0.104,"e":0.013},{"p":9,"s":"YF","x":80,"y":0.0723,"e":0.004},{"p":9,"s":"YF","x":90,"y":0.071,"e":0.004},{"p":9,"s":"YF","x":100,"y":0.0888,"e":0.01},{"p":9,"s":"YF","x":120,"y":0.082,"e":0.004},{"p":9,"s":"YF","x":140,"y":0.101,"e":0.009},{"p":9,"s":"YF","x":160,"y":0.082,"e":0.004},{"p":9,"s":"YF","x":180,"y":0.0847,"e":0.014},
{"p":10,"s":"MH","x":10,"y":0.0759,"e":0.008},{"p":10,"s":"MH","x":20,"y":0.0778,"e":0.008},{"p":10,"s":"MH","x":30,"y":0.069,"e":0.006},{"p":10,"s":"MH","x":40,"y":0.0778,"e":0.02},{"p":10,"s":"MH","x":50,"y":0.08,"e":0.006},{"p":10,"s":"MH","x":60,"y":0.0814,"e":0.006},{"p":10,"s":"MH","x":70,"y":0.0814,"e":0.006},{"p":10,"s":"MH","x":80,"y":0.069,"e":0.015},{"p":10,"s":"MH","x":90,"y":0.0745,"e":0.006},{"p":10,"s":"MH","x":100,"y":0.082,"e":0.011},{"p":10,"s":"MH","x":120,"y":0.0655,"e":0.014},{"p":10,"s":"MH","x":140,"y":0.074,"e":0.006},{"p":10,"s":"MH","x":160,"y":0.069,"e":0.014},{"p":10,"s":"MH","x":180,"y":0.0778,"e":0.006},
{"p":10,"s":"YK","x":10,"y":0.052,"e":0.004},{"p":10,"s":"YK","x":20,"y":0.0422,"e":0.004},{"p":10,"s":"YK","x":30,"y":0.0499,"e":0.004},{"p":10,"s":"YK","x":40,"y":0.0548,"e":0.008},{"p":10,"s":"YK","x":50,"y":0.051,"e":0.004},{"p":10,"s":"YK","x":60,"y":0.045,"e":0.006},{"p":10,"s":"YK","x":70,"y":0.0499,"e":0.01},{"p":10,"s":"YK","x":80,"y":0.0499,"e":0.015},{"p":10,"s":"YK","x":90,"y":0.0463,"e":0.005},{"p":10,"s":"YK","x":100,"y":0.049,"e":0.006},{"p":10,"s":"YK","x":120,"y":0.0512,"e":0.014},{"p":10,"s":"YK","x":140,"y":0.054,"e":0.004},{"p":10,"s":"YK","x":160,"y":0.0499,"e":0.01},{"p":10,"s":"YK","x":180,"y":0.043,"e":0.005},
{"p":10,"s":"YF","x":10,"y":0.0778,"e":0.004},{"p":10,"s":"YF","x":20,"y":0.0723,"e":0.006},{"p":10,"s":"YF","x":30,"y":0.0836,"e":0.004},{"p":10,"s":"YF","x":40,"y":0.0888,"e":0.01},{"p":10,"s":"YF","x":50,"y":0.0723,"e":0.004},{"p":10,"s":"YF","x":60,"y":0.083,"e":0.004},{"p":10,"s":"YF","x":70,"y":0.0997,"e":0.01},{"p":10,"s":"YF","x":80,"y":0.0827,"e":0.004},{"p":10,"s":"YF","x":90,"y":0.094,"e":0.004},{"p":10,"s":"YF","x":100,"y":0.071,"e":0.006},{"p":10,"s":"YF","x":120,"y":0.0759,"e":0.004},{"p":10,"s":"YF","x":140,"y":0.0937,"e":0.014},{"p":10,"s":"YF","x":160,"y":0.092,"e":0.01},{"p":10,"s":"YF","x":180,"y":0.0764,"e":0.004},
{"p":11,"s":"MH","x":10,"y":0.0564,"e":0.005},{"p":11,"s":"MH","x":20,"y":0.063,"e":0.004},{"p":11,"s":"MH","x":30,"y":0.0835,"e":0.004},{"p":11,"s":"MH","x":40,"y":0.082,"e":0.011},{"p":11,"s":"MH","x":50,"y":0.084,"e":0.016},{"p":11,"s":"MH","x":60,"y":0.0806,"e":0.008},{"p":11,"s":"MH","x":70,"y":0.0883,"e":0.012},{"p":11,"s":"MH","x":80,"y":0.0915,"e":0.008},{"p":11,"s":"MH","x":90,"y":0.0886,"e":0.01},{"p":11,"s":"MH","x":100,"y":0.085,"e":0.008},{"p":11,"s":"MH","x":120,"y":0.077,"e":0.006},{"p":11,"s":"MH","x":140,"y":0.095,"e":0.004},{"p":11,"s":"MH","x":160,"y":0.0707,"e":0.009},{"p":11,"s":"MH","x":180,"y":0.0815,"e":0.016},
{"p":11,"s":"YK","x":10,"y":0.0419,"e":0.007},{"p":11,"s":"YK","x":20,"y":0.0493,"e":0.004},{"p":11,"s":"YK","x":30,"y":0.0556,"e":0.004},{"p":11,"s":"YK","x":40,"y":0.057,"e":0.004},{"p":11,"s":"YK","x":50,"y":0.057,"e":0.004},{"p":11,"s":"YK","x":60,"y":0.0564,"e":0.015},{"p":11,"s":"YK","x":70,"y":0.0556,"e":0.016},{"p":11,"s":"YK","x":80,"y":0.0564,"e":0.01},{"p":11,"s":"YK","x":90,"y":0.0556,"e":0.004},{"p":11,"s":"YK","x":100,"y":0.0493,"e":0.006},{"p":11,"s":"YK","x":120,"y":0.0544,"e":0.004},{"p":11,"s":"YK","x":140,"y":0.0493,"e":0.006},{"p":11,"s":"YK","x":160,"y":0.055,"e":0.004},{"p":11,"s":"YK","x":180,"y":0.0416,"e":0.006},
{"p":11,"s":"YF","x":10,"y":0.0855,"e":0.009},{"p":11,"s":"YF","x":20,"y":0.0735,"e":0.004},{"p":11,"s":"YF","x":30,"y":0.074,"e":0.004},{"p":11,"s":"YF","x":40,"y":0.0715,"e":0.005},{"p":11,"s":"YF","x":50,"y":0.073,"e":0.004},{"p":11,"s":"YF","x":60,"y":0.087,"e":0.012},{"p":11,"s":"YF","x":70,"y":0.08,"e":0.004},{"p":11,"s":"YF","x":80,"y":0.0713,"e":0.005},{"p":11,"s":"YF","x":90,"y":0.0758,"e":0.008},{"p":11,"s":"YF","x":100,"y":0.075,"e":0.005},{"p":11,"s":"YF","x":120,"y":0.082,"e":0.005},{"p":11,"s":"YF","x":140,"y":0.093,"e":0.004},{"p":11,"s":"YF","x":160,"y":0.0787,"e":0.005},{"p":11,"s":"YF","x":180,"y":0.0815,"e":0.004},
{"p":12,"s":"MH","x":10,"y":0.0551,"e":0.004},{"p":12,"s":"MH","x":20,"y":0.0647,"e":0.009},{"p":12,"s":"MH","x":30,"y":0.071,"e":0.004},{"p":12,"s":"MH","x":40,"y":0.0824,"e":0.009},{"p":12,"s":"MH","x":50,"y":0.0693,"e":0.004},{"p":12,"s":"MH","x":60,"y":0.0824,"e":0.004},{"p":12,"s":"MH","x":70,"y":0.0622,"e":0.01},{"p":12,"s":"MH","x":80,"y":0.0633,"e":0.006},{"p":12,"s":"MH","x":90,"y":0.0764,"e":0.006},{"p":12,"s":"MH","x":100,"y":0.0633,"e":0.006},{"p":12,"s":"MH","x":120,"y":0.062,"e":0.004},{"p":12,"s":"MH","x":140,"y":0.0677,"e":0.009},{"p":12,"s":"MH","x":160,"y":0.0764,"e":0.005},{"p":12,"s":"MH","x":180,"y":0.0824,"e":0.004},
{"p":12,"s":"YK","x":10,"y":0.049,"e":0.011},{"p":12,"s":"YK","x":20,"y":0.0388,"e":0.008},{"p":12,"s":"YK","x":30,"y":0.0467,"e":0.006},{"p":12,"s":"YK","x":40,"y":0.0475,"e":0.006},{"p":12,"s":"YK","x":50,"y":0.0592,"e":0.006},{"p":12,"s":"YK","x":60,"y":0.0524,"e":0.007},{"p":12,"s":"YK","x":70,"y":0.0628,"e":0.01},{"p":12,"s":"YK","x":80,"y":0.048,"e":0.006},{"p":12,"s":"YK","x":90,"y":0.054,"e":0.005},{"p":12,"s":"YK","x":100,"y":0.0677,"e":0.006},{"p":12,"s":"YK","x":120,"y":0.054,"e":0.011},{"p":12,"s":"YK","x":140,"y":0.0377,"e":0.004},{"p":12,"s":"YK","x":160,"y":0.0639,"e":0.006},{"p":12,"s":"YK","x":180,"y":0.0483,"e":0.01},
{"p":13,"s":"MH","x":10,"y":0.0573,"e":0.004},{"p":13,"s":"MH","x":20,"y":0.0688,"e":0.012},{"p":13,"s":"MH","x":30,"y":0.0622,"e":0.008},{"p":13,"s":"MH","x":40,"y":0.0783,"e":0.01},{"p":13,"s":"MH","x":50,"y":0.0824,"e":0.006},{"p":13,"s":"MH","x":60,"y":0.07,"e":0.015},{"p":13,"s":"MH","x":70,"y":0.069,"e":0.006},{"p":13,"s":"MH","x":80,"y":0.0865,"e":0.012},{"p":13,"s":"MH","x":90,"y":0.0838,"e":0.014},{"p":13,"s":"MH","x":100,"y":0.0879,"e":0.012},{"p":13,"s":"MH","x":120,"y":0.0794,"e":0.02},{"p":13,"s":"MH","x":140,"y":0.0794,"e":0.008},{"p":13,"s":"MH","x":160,"y":0.09,"e":0.008},{"p":13,"s":"MH","x":180,"y":0.0732,"e":0.012},
{"p":13,"s":"YK","x":10,"y":0.0595,"e":0.004},{"p":13,"s":"YK","x":20,"y":0.0505,"e":0.005},{"p":13,"s":"YK","x":30,"y":0.0573,"e":0.004},{"p":13,"s":"YK","x":40,"y":0.0478,"e":0.008},{"p":13,"s":"YK","x":50,"y":0.0513,"e":0.004},{"p":13,"s":"YK","x":60,"y":0.0505,"e":0.004},{"p":13,"s":"YK","x":70,"y":0.0606,"e":0.005},{"p":13,"s":"YK","x":80,"y":0.0598,"e":0.005},{"p":13,"s":"YK","x":90,"y":0.0655,"e":0.006},{"p":13,"s":"YK","x":100,"y":0.0622,"e":0.006},{"p":13,"s":"YK","x":120,"y":0.0483,"e":0.006},{"p":13,"s":"YK","x":140,"y":0.0666,"e":0.006},{"p":13,"s":"YK","x":160,"y":0.065,"e":0.011},{"p":13,"s":"YK","x":180,"y":0.0551,"e":0.012},
{"p":13,"s":"YF","x":10,"y":0.0606,"e":0.004},{"p":13,"s":"YF","x":20,"y":0.062,"e":0.004},{"p":13,"s":"YF","x":30,"y":0.0688,"e":0.004},{"p":13,"s":"YF","x":40,"y":0.0715,"e":0.006},{"p":13,"s":"YF","x":50,"y":0.0887,"e":0.004},{"p":13,"s":"YF","x":60,"y":0.0797,"e":0.004},{"p":13,"s":"YF","x":70,"y":0.086,"e":0.016},{"p":13,"s":"YF","x":80,"y":0.0764,"e":0.012},{"p":13,"s":"YF","x":90,"y":0.0846,"e":0.004},{"p":13,"s":"YF","x":100,"y":0.0824,"e":0.004},{"p":13,"s":"YF","x":120,"y":0.0764,"e":0.005},{"p":13,"s":"YF","x":140,"y":0.0874,"e":0.004},{"p":13,"s":"YF","x":160,"y":0.09,"e":0.004},{"p":13,"s":"YF","x":180,"y":0.0773,"e":0.004},
{"p":14,"s":"MH","x":10,"y":0.054,"e":0.004},{"p":14,"s":"MH","x":20,"y":0.0642,"e":0.01},{"p":14,"s":"MH","x":30,"y":0.0663,"e":0.006},{"p":14,"s":"MH","x":40,"y":0.071,"e":0.004},{"p":14,"s":"MH","x":50,"y":0.071,"e":0.006},{"p":14,"s":"MH","x":60,"y":0.075,"e":0.005},{"p":14,"s":"MH","x":70,"y":0.0683,"e":0.008},{"p":14,"s":"MH","x":80,"y":0.0743,"e":0.004},{"p":14,"s":"MH","x":90,"y":0.0579,"e":0.005},{"p":14,"s":"MH","x":100,"y":0.0633,"e":0.005},{"p":14,"s":"MH","x":120,"y":0.0683,"e":0.006},{"p":14,"s":"MH","x":140,"y":0.0581,"e":0.004},{"p":14,"s":"MH","x":160,"y":0.0745,"e":0.006},{"p":14,"s":"MH","x":180,"y":0.071,"e":0.004},
{"p":14,"s":"YK","x":10,"y":0.0502,"e":0.004},{"p":14,"s":"YK","x":20,"y":0.0524,"e":0.004},{"p":14,"s":"YK","x":30,"y":0.0579,"e":0.006},{"p":14,"s":"YK","x":40,"y":0.054,"e":0.004},{"p":14,"s":"YK","x":50,"y":0.0693,"e":0.006},{"p":14,"s":"YK","x":60,"y":0.0729,"e":0.004},{"p":14,"s":"YK","x":70,"y":0.06,"e":0.008},{"p":14,"s":"YK","x":80,"y":0.0587,"e":0.005},{"p":14,"s":"YK","x":90,"y":0.0729,"e":0.005},{"p":14,"s":"YK","x":100,"y":0.0696,"e":0.005},{"p":14,"s":"YK","x":120,"y":0.0592,"e":0.004},{"p":14,"s":"YK","x":140,"y":0.0538,"e":0.004},{"p":14,"s":"YK","x":160,"y":0.0551,"e":0.007},{"p":14,"s":"YK","x":180,"y":0.0538,"e":0.005},
{"p":15,"s":"MH","x":10,"y":0.054,"e":0.015},{"p":15,"s":"MH","x":20,"y":0.0546,"e":0.012},{"p":15,"s":"MH","x":30,"y":0.0895,"e":0.006},{"p":15,"s":"MH","x":40,"y":0.0688,"e":0.015},{"p":15,"s":"MH","x":50,"y":0.0587,"e":0.008},{"p":15,"s":"MH","x":60,"y":0.077,"e":0.008},{"p":15,"s":"MH","x":70,"y":0.0688,"e":0.006},{"p":15,"s":"MH","x":80,"y":0.0743,"e":0.012},{"p":15,"s":"MH","x":90,"y":0.077,"e":0.01},{"p":15,"s":"MH","x":100,"y":0.07,"e":0.015},{"p":15,"s":"MH","x":120,"y":0.045,"e":0.005},{"p":15,"s":"MH","x":140,"y":0.0715,"e":0.012},{"p":15,"s":"MH","x":160,"y":0.069,"e":0.012},{"p":15,"s":"MH","x":180,"y":0.0743,"e":0.01},
{"p":15,"s":"YK","x":10,"y":0.0314,"e":0.014},{"p":15,"s":"YK","x":20,"y":0.0478,"e":0.006},{"p":15,"s":"YK","x":30,"y":0.0573,"e":0.005},{"p":15,"s":"YK","x":40,"y":0.0513,"e":0.01},{"p":15,"s":"YK","x":50,"y":0.0519,"e":0.005},{"p":15,"s":"YK","x":60,"y":0.0674,"e":0.005},{"p":15,"s":"YK","x":70,"y":0.0633,"e":0.004},{"p":15,"s":"YK","x":80,"y":0.062,"e":0.005},{"p":15,"s":"YK","x":90,"y":0.062,"e":0.005},{"p":15,"s":"YK","x":100,"y":0.0595,"e":0.006},{"p":15,"s":"YK","x":120,"y":0.0497,"e":0.004},{"p":15,"s":"YK","x":140,"y":0.0587,"e":0.005},{"p":15,"s":"YK","x":160,"y":0.0551,"e":0.005},{"p":15,"s":"YK","x":180,"y":0.0579,"e":0.006},
{"p":15,"s":"YF","x":10,"y":0.06,"e":0.004},{"p":15,"s":"YF","x":20,"y":0.0797,"e":0.004},{"p":15,"s":"YF","x":30,"y":0.0814,"e":0.004},{"p":15,"s":"YF","x":40,"y":0.0906,"e":0.004},{"p":15,"s":"YF","x":50,"y":0.103,"e":0.004},{"p":15,"s":"YF","x":60,"y":0.0833,"e":0.004},{"p":15,"s":"YF","x":70,"y":0.0814,"e":0.004},{"p":15,"s":"YF","x":80,"y":0.0838,"e":0.004},{"p":15,"s":"YF","x":90,"y":0.0696,"e":0.004},{"p":15,"s":"YF","x":100,"y":0.0805,"e":0.02},{"p":15,"s":"YF","x":120,"y":0.082,"e":0.004},{"p":15,"s":"YF","x":140,"y":0.0792,"e":0.004},{"p":15,"s":"YF","x":160,"y":0.0792,"e":0.004},{"p":15,"s":"YF","x":180,"y":0.082,"e":0.004}
]
},
"columns":5,
"spacing":{"row":28,"column":22},
"bounds":"flush",
"concat":[
{"width":205,"height":142,"layer":[{"encoding":{"x":{"field":"x","type":"quantitative","scale":{"domain":[0,200],"nice":false},"axis":{"labels":false,"title":null,"tickCount":20}},"y":{"field":"y","type":"quantitative","scale":{"domain":[0,0.12],"nice":false},"axis":{"title":null,"tickCount":6}}},"layer":[
{"data":{"name":"pts"},"transform":[{"filter":"datum.p==1"}],"mark":{"type":"errorbar","color":"#8c8c8c","thickness":1.3},"encoding":{"yError":{"field":"e"}}},
{"data":{"name":"fit"},"transform":[{"filter":"datum.p==1"}],"mark":{"type":"line","interpolate":"monotone"},"encoding":{"stroke":{"field":"s","type":"nominal","scale":{"domain":["YF","YK","MH"],"range":["#8f8f8f","#000000","#000000"]},"legend":null},"strokeDash":{"field":"s","type":"nominal","scale":{"domain":["YF","YK","MH"],"range":[[1,0],[1,0],[2,3]]},"legend":null},"strokeWidth":{"field":"s","type":"nominal","scale":{"type":"ordinal","domain":["YF","YK","MH"],"range":[2.8,2.2,1.3]},"legend":null}}},
{"data":{"name":"pts"},"transform":[{"filter":"datum.p==1"}],"mark":{"type":"point","filled":true,"stroke":"black","strokeWidth":1,"opacity":1},"encoding":{"shape":{"field":"s","type":"nominal","scale":{"domain":["MH","YK","YF"],"range":["circle","square","triangle-up"]},"legend":{"title":null,"orient":"none","legendX":829,"legendY":527,"direction":"horizontal","symbolSize":110,"symbolStrokeWidth":1.2,"symbolOpacity":1,"labelFont":"Liberation Serif","labelFontSize":27,"labelColor":"black","labelOffset":10,"columnPadding":34,"padding":0}},"fill":{"field":"s","type":"nominal","scale":{"domain":["MH","YK","YF"],"range":["white","black","white"]}},"size":{"field":"s","type":"nominal","scale":{"type":"ordinal","domain":["YF","MH","YK"],"range":[26,75,62]},"legend":null}}}
]},
{"data":{"name":"labs"},"transform":[{"filter":"datum.p==1"}],"mark":{"type":"text","align":"right","baseline":"alphabetic","font":"Liberation Serif","fontWeight":"bold","fontSize":17,"dy":-3},"encoding":{"x":{"datum":200,"type":"quantitative"},"y":{"datum":0,"type":"quantitative"},"text":{"field":"t"}}}
]},
{"width":205,"height":142,"layer":[{"encoding":{"x":{"field":"x","type":"quantitative","scale":{"domain":[0,200],"nice":false},"axis":{"labels":false,"title":null,"tickCount":20}},"y":{"field":"y","type":"quantitative","scale":{"domain":[0,0.12],"nice":false},"axis":{"labels":false,"title":null,"tickCount":6}}},"layer":[
{"data":{"name":"pts"},"transform":[{"filter":"datum.p==2"}],"mark":{"type":"errorbar","color":"#8c8c8c","thickness":1.3},"encoding":{"yError":{"field":"e"}}},
{"data":{"name":"fit"},"transform":[{"filter":"datum.p==2"}],"mark":{"type":"line","interpolate":"monotone"},"encoding":{"stroke":{"field":"s","type":"nominal","scale":{"domain":["YF","YK","MH"],"range":["#8f8f8f","#000000","#000000"]},"legend":null},"strokeDash":{"field":"s","type":"nominal","scale":{"domain":["YF","YK","MH"],"range":[[1,0],[1,0],[2,3]]},"legend":null},"strokeWidth":{"field":"s","type":"nominal","scale":{"type":"ordinal","domain":["YF","YK","MH"],"range":[2.8,2.2,1.3]},"legend":null}}},
{"data":{"name":"pts"},"transform":[{"filter":"datum.p==2"}],"mark":{"type":"point","filled":true,"stroke":"black","strokeWidth":1,"opacity":1},"encoding":{"shape":{"field":"s","type":"nominal","scale":{"domain":["MH","YK","YF"],"range":["circle","square","triangle-up"]}},"fill":{"field":"s","type":"nominal","scale":{"domain":["MH","YK","YF"],"range":["white","black","white"]}},"size":{"field":"s","type":"nominal","scale":{"type":"ordinal","domain":["YF","MH","YK"],"range":[26,75,62]},"legend":null}}}
]},
{"data":{"name":"labs"},"transform":[{"filter":"datum.p==2"}],"mark":{"type":"text","align":"right","baseline":"alphabetic","font":"Liberation Serif","fontWeight":"bold","fontSize":17,"dy":-3},"encoding":{"x":{"datum":200,"type":"quantitative"},"y":{"datum":0,"type":"quantitative"},"text":{"field":"t"}}}
]},
{"width":205,"height":142,"layer":[{"encoding":{"x":{"field":"x","type":"quantitative","scale":{"domain":[0,200],"nice":false},"axis":{"labels":false,"title":null,"tickCount":20}},"y":{"field":"y","type":"quantitative","scale":{"domain":[0,0.12],"nice":false},"axis":{"labels":false,"title":null,"tickCount":6}}},"layer":[
{"data":{"name":"pts"},"transform":[{"filter":"datum.p==3"}],"mark":{"type":"errorbar","color":"#8c8c8c","thickness":1.3},"encoding":{"yError":{"field":"e"}}},
{"data":{"name":"fit"},"transform":[{"filter":"datum.p==3"}],"mark":{"type":"line","interpolate":"monotone"},"encoding":{"stroke":{"field":"s","type":"nominal","scale":{"domain":["YF","YK","MH"],"range":["#8f8f8f","#000000","#000000"]},"legend":null},"strokeDash":{"field":"s","type":"nominal","scale":{"domain":["YF","YK","MH"],"range":[[1,0],[1,0],[2,3]]},"legend":null},"strokeWidth":{"field":"s","type":"nominal","scale":{"type":"ordinal","domain":["YF","YK","MH"],"range":[2.8,2.2,1.3]},"legend":null}}},
{"data":{"name":"pts"},"transform":[{"filter":"datum.p==3"}],"mark":{"type":"point","filled":true,"stroke":"black","strokeWidth":1,"opacity":1},"encoding":{"shape":{"field":"s","type":"nominal","scale":{"domain":["MH","YK","YF"],"range":["circle","square","triangle-up"]}},"fill":{"field":"s","type":"nominal","scale":{"domain":["MH","YK","YF"],"range":["white","black","white"]}},"size":{"field":"s","type":"nominal","scale":{"type":"ordinal","domain":["YF","MH","YK"],"range":[26,75,62]},"legend":null}}}
]},
{"data":{"name":"labs"},"transform":[{"filter":"datum.p==3"}],"mark":{"type":"text","align":"right","baseline":"alphabetic","font":"Liberation Serif","fontWeight":"bold","fontSize":17,"dy":-3},"encoding":{"x":{"datum":200,"type":"quantitative"},"y":{"datum":0,"type":"quantitative"},"text":{"field":"t"}}}
]},
{"width":205,"height":142,"layer":[{"encoding":{"x":{"field":"x","type":"quantitative","scale":{"domain":[0,200],"nice":false},"axis":{"labels":false,"title":null,"tickCount":20}},"y":{"field":"y","type":"quantitative","scale":{"domain":[0,0.12],"nice":false},"axis":{"labels":false,"title":null,"tickCount":6}}},"layer":[
{"data":{"name":"pts"},"transform":[{"filter":"datum.p==4"}],"mark":{"type":"errorbar","color":"#8c8c8c","thickness":1.3},"encoding":{"yError":{"field":"e"}}},
{"data":{"name":"fit"},"transform":[{"filter":"datum.p==4"}],"mark":{"type":"line","interpolate":"monotone"},"encoding":{"stroke":{"field":"s","type":"nominal","scale":{"domain":["YF","YK","MH"],"range":["#8f8f8f","#000000","#000000"]},"legend":null},"strokeDash":{"field":"s","type":"nominal","scale":{"domain":["YF","YK","MH"],"range":[[1,0],[1,0],[2,3]]},"legend":null},"strokeWidth":{"field":"s","type":"nominal","scale":{"type":"ordinal","domain":["YF","YK","MH"],"range":[2.8,2.2,1.3]},"legend":null}}},
{"data":{"name":"pts"},"transform":[{"filter":"datum.p==4"}],"mark":{"type":"point","filled":true,"stroke":"black","strokeWidth":1,"opacity":1},"encoding":{"shape":{"field":"s","type":"nominal","scale":{"domain":["MH","YK","YF"],"range":["circle","square","triangle-up"]}},"fill":{"field":"s","type":"nominal","scale":{"domain":["MH","YK","YF"],"range":["white","black","white"]}},"size":{"field":"s","type":"nominal","scale":{"type":"ordinal","domain":["YF","MH","YK"],"range":[26,75,62]},"legend":null}}}
]},
{"data":{"name":"labs"},"transform":[{"filter":"datum.p==4"}],"mark":{"type":"text","align":"right","baseline":"alphabetic","font":"Liberation Serif","fontWeight":"bold","fontSize":17,"dy":-3},"encoding":{"x":{"datum":200,"type":"quantitative"},"y":{"datum":0,"type":"quantitative"},"text":{"field":"t"}}}
]},
{"width":205,"height":142,"layer":[{"encoding":{"x":{"field":"x","type":"quantitative","scale":{"domain":[0,200],"nice":false},"axis":{"labels":false,"title":null,"tickCount":20}},"y":{"field":"y","type":"quantitative","scale":{"domain":[0,0.12],"nice":false},"axis":{"labels":false,"title":null,"tickCount":6}}},"layer":[
{"data":{"name":"pts"},"transform":[{"filter":"datum.p==5"}],"mark":{"type":"errorbar","color":"#8c8c8c","thickness":1.3},"encoding":{"yError":{"field":"e"}}},
{"data":{"name":"fit"},"transform":[{"filter":"datum.p==5"}],"mark":{"type":"line","interpolate":"monotone"},"encoding":{"stroke":{"field":"s","type":"nominal","scale":{"domain":["YF","YK","MH"],"range":["#8f8f8f","#000000","#000000"]},"legend":null},"strokeDash":{"field":"s","type":"nominal","scale":{"domain":["YF","YK","MH"],"range":[[1,0],[1,0],[2,3]]},"legend":null},"strokeWidth":{"field":"s","type":"nominal","scale":{"type":"ordinal","domain":["YF","YK","MH"],"range":[2.8,2.2,1.3]},"legend":null}}},
{"data":{"name":"pts"},"transform":[{"filter":"datum.p==5"}],"mark":{"type":"point","filled":true,"stroke":"black","strokeWidth":1,"opacity":1},"encoding":{"shape":{"field":"s","type":"nominal","scale":{"domain":["MH","YK","YF"],"range":["circle","square","triangle-up"]}},"fill":{"field":"s","type":"nominal","scale":{"domain":["MH","YK","YF"],"range":["white","black","white"]}},"size":{"field":"s","type":"nominal","scale":{"type":"ordinal","domain":["YF","MH","YK"],"range":[26,75,62]},"legend":null}}}
]},
{"data":{"name":"labs"},"transform":[{"filter":"datum.p==5"}],"mark":{"type":"text","align":"right","baseline":"alphabetic","font":"Liberation Serif","fontWeight":"bold","fontSize":17,"dy":-3},"encoding":{"x":{"datum":200,"type":"quantitative"},"y":{"datum":0,"type":"quantitative"},"text":{"field":"t"}}}
]},
{"width":205,"height":142,"layer":[{"encoding":{"x":{"field":"x","type":"quantitative","scale":{"domain":[0,200],"nice":false},"axis":{"labels":false,"title":null,"tickCount":20}},"y":{"field":"y","type":"quantitative","scale":{"domain":[0,0.12],"nice":false},"axis":{"title":"Log contrast","tickCount":6}}},"layer":[
{"data":{"name":"pts"},"transform":[{"filter":"datum.p==6"}],"mark":{"type":"errorbar","color":"#8c8c8c","thickness":1.3},"encoding":{"yError":{"field":"e"}}},
{"data":{"name":"fit"},"transform":[{"filter":"datum.p==6"}],"mark":{"type":"line","interpolate":"monotone"},"encoding":{"stroke":{"field":"s","type":"nominal","scale":{"domain":["YF","YK","MH"],"range":["#8f8f8f","#000000","#000000"]},"legend":null},"strokeDash":{"field":"s","type":"nominal","scale":{"domain":["YF","YK","MH"],"range":[[1,0],[1,0],[2,3]]},"legend":null},"strokeWidth":{"field":"s","type":"nominal","scale":{"type":"ordinal","domain":["YF","YK","MH"],"range":[2.8,2.2,1.3]},"legend":null}}},
{"data":{"name":"pts"},"transform":[{"filter":"datum.p==6"}],"mark":{"type":"point","filled":true,"stroke":"black","strokeWidth":1,"opacity":1},"encoding":{"shape":{"field":"s","type":"nominal","scale":{"domain":["MH","YK","YF"],"range":["circle","square","triangle-up"]}},"fill":{"field":"s","type":"nominal","scale":{"domain":["MH","YK","YF"],"range":["white","black","white"]}},"size":{"field":"s","type":"nominal","scale":{"type":"ordinal","domain":["YF","MH","YK"],"range":[26,75,62]},"legend":null}}}
]},
{"data":{"name":"labs"},"transform":[{"filter":"datum.p==6"}],"mark":{"type":"text","align":"right","baseline":"alphabetic","font":"Liberation Serif","fontWeight":"bold","fontSize":17,"dy":-3},"encoding":{"x":{"datum":200,"type":"quantitative"},"y":{"datum":0,"type":"quantitative"},"text":{"field":"t"}}}
]},
{"width":205,"height":142,"layer":[{"encoding":{"x":{"field":"x","type":"quantitative","scale":{"domain":[0,200],"nice":false},"axis":{"labels":false,"title":null,"tickCount":20}},"y":{"field":"y","type":"quantitative","scale":{"domain":[0,0.12],"nice":false},"axis":{"labels":false,"title":null,"tickCount":6}}},"layer":[
{"data":{"name":"pts"},"transform":[{"filter":"datum.p==7"}],"mark":{"type":"errorbar","color":"#8c8c8c","thickness":1.3},"encoding":{"yError":{"field":"e"}}},
{"data":{"name":"fit"},"transform":[{"filter":"datum.p==7"}],"mark":{"type":"line","interpolate":"monotone"},"encoding":{"stroke":{"field":"s","type":"nominal","scale":{"domain":["YF","YK","MH"],"range":["#8f8f8f","#000000","#000000"]},"legend":null},"strokeDash":{"field":"s","type":"nominal","scale":{"domain":["YF","YK","MH"],"range":[[1,0],[1,0],[2,3]]},"legend":null},"strokeWidth":{"field":"s","type":"nominal","scale":{"type":"ordinal","domain":["YF","YK","MH"],"range":[2.8,2.2,1.3]},"legend":null}}},
{"data":{"name":"pts"},"transform":[{"filter":"datum.p==7"}],"mark":{"type":"point","filled":true,"stroke":"black","strokeWidth":1,"opacity":1},"encoding":{"shape":{"field":"s","type":"nominal","scale":{"domain":["MH","YK","YF"],"range":["circle","square","triangle-up"]}},"fill":{"field":"s","type":"nominal","scale":{"domain":["MH","YK","YF"],"range":["white","black","white"]}},"size":{"field":"s","type":"nominal","scale":{"type":"ordinal","domain":["YF","MH","YK"],"range":[26,75,62]},"legend":null}}}
]},
{"data":{"name":"labs"},"transform":[{"filter":"datum.p==7"}],"mark":{"type":"text","align":"right","baseline":"alphabetic","font":"Liberation Serif","fontWeight":"bold","fontSize":17,"dy":-3},"encoding":{"x":{"datum":200,"type":"quantitative"},"y":{"datum":0,"type":"quantitative"},"text":{"field":"t"}}}
]},
{"width":205,"height":142,"layer":[{"encoding":{"x":{"field":"x","type":"quantitative","scale":{"domain":[0,200],"nice":false},"axis":{"labels":false,"title":null,"tickCount":20}},"y":{"field":"y","type":"quantitative","scale":{"domain":[0,0.12],"nice":false},"axis":{"labels":false,"title":null,"tickCount":6}}},"layer":[
{"data":{"name":"pts"},"transform":[{"filter":"datum.p==8"}],"mark":{"type":"errorbar","color":"#8c8c8c","thickness":1.3},"encoding":{"yError":{"field":"e"}}},
{"data":{"name":"fit"},"transform":[{"filter":"datum.p==8"}],"mark":{"type":"line","interpolate":"monotone"},"encoding":{"stroke":{"field":"s","type":"nominal","scale":{"domain":["YF","YK","MH"],"range":["#8f8f8f","#000000","#000000"]},"legend":null},"strokeDash":{"field":"s","type":"nominal","scale":{"domain":["YF","YK","MH"],"range":[[1,0],[1,0],[2,3]]},"legend":null},"strokeWidth":{"field":"s","type":"nominal","scale":{"type":"ordinal","domain":["YF","YK","MH"],"range":[2.8,2.2,1.3]},"legend":null}}},
{"data":{"name":"pts"},"transform":[{"filter":"datum.p==8"}],"mark":{"type":"point","filled":true,"stroke":"black","strokeWidth":1,"opacity":1},"encoding":{"shape":{"field":"s","type":"nominal","scale":{"domain":["MH","YK","YF"],"range":["circle","square","triangle-up"]}},"fill":{"field":"s","type":"nominal","scale":{"domain":["MH","YK","YF"],"range":["white","black","white"]}},"size":{"field":"s","type":"nominal","scale":{"type":"ordinal","domain":["YF","MH","YK"],"range":[26,75,62]},"legend":null}}}
]},
{"data":{"name":"labs"},"transform":[{"filter":"datum.p==8"}],"mark":{"type":"text","align":"right","baseline":"alphabetic","font":"Liberation Serif","fontWeight":"bold","fontSize":17,"dy":-3},"encoding":{"x":{"datum":200,"type":"quantitative"},"y":{"datum":0,"type":"quantitative"},"text":{"field":"t"}}}
]},
{"width":205,"height":142,"layer":[{"encoding":{"x":{"field":"x","type":"quantitative","scale":{"domain":[0,200],"nice":false},"axis":{"labels":false,"title":null,"tickCount":20}},"y":{"field":"y","type":"quantitative","scale":{"domain":[0,0.12],"nice":false},"axis":{"labels":false,"title":null,"tickCount":6}}},"layer":[
{"data":{"name":"pts"},"transform":[{"filter":"datum.p==9"}],"mark":{"type":"errorbar","color":"#8c8c8c","thickness":1.3},"encoding":{"yError":{"field":"e"}}},
{"data":{"name":"fit"},"transform":[{"filter":"datum.p==9"}],"mark":{"type":"line","interpolate":"monotone"},"encoding":{"stroke":{"field":"s","type":"nominal","scale":{"domain":["YF","YK","MH"],"range":["#8f8f8f","#000000","#000000"]},"legend":null},"strokeDash":{"field":"s","type":"nominal","scale":{"domain":["YF","YK","MH"],"range":[[1,0],[1,0],[2,3]]},"legend":null},"strokeWidth":{"field":"s","type":"nominal","scale":{"type":"ordinal","domain":["YF","YK","MH"],"range":[2.8,2.2,1.3]},"legend":null}}},
{"data":{"name":"pts"},"transform":[{"filter":"datum.p==9"}],"mark":{"type":"point","filled":true,"stroke":"black","strokeWidth":1,"opacity":1},"encoding":{"shape":{"field":"s","type":"nominal","scale":{"domain":["MH","YK","YF"],"range":["circle","square","triangle-up"]}},"fill":{"field":"s","type":"nominal","scale":{"domain":["MH","YK","YF"],"range":["white","black","white"]}},"size":{"field":"s","type":"nominal","scale":{"type":"ordinal","domain":["YF","MH","YK"],"range":[26,75,62]},"legend":null}}}
]},
{"data":{"name":"labs"},"transform":[{"filter":"datum.p==9"}],"mark":{"type":"text","align":"right","baseline":"alphabetic","font":"Liberation Serif","fontWeight":"bold","fontSize":17,"dy":-3},"encoding":{"x":{"datum":200,"type":"quantitative"},"y":{"datum":0,"type":"quantitative"},"text":{"field":"t"}}}
]},
{"width":205,"height":142,"layer":[{"encoding":{"x":{"field":"x","type":"quantitative","scale":{"domain":[0,200],"nice":false},"axis":{"labels":false,"title":null,"tickCount":20}},"y":{"field":"y","type":"quantitative","scale":{"domain":[0,0.12],"nice":false},"axis":{"labels":false,"title":null,"tickCount":6}}},"layer":[
{"data":{"name":"pts"},"transform":[{"filter":"datum.p==10"}],"mark":{"type":"errorbar","color":"#8c8c8c","thickness":1.3},"encoding":{"yError":{"field":"e"}}},
{"data":{"name":"fit"},"transform":[{"filter":"datum.p==10"}],"mark":{"type":"line","interpolate":"monotone"},"encoding":{"stroke":{"field":"s","type":"nominal","scale":{"domain":["YF","YK","MH"],"range":["#8f8f8f","#000000","#000000"]},"legend":null},"strokeDash":{"field":"s","type":"nominal","scale":{"domain":["YF","YK","MH"],"range":[[1,0],[1,0],[2,3]]},"legend":null},"strokeWidth":{"field":"s","type":"nominal","scale":{"type":"ordinal","domain":["YF","YK","MH"],"range":[2.8,2.2,1.3]},"legend":null}}},
{"data":{"name":"pts"},"transform":[{"filter":"datum.p==10"}],"mark":{"type":"point","filled":true,"stroke":"black","strokeWidth":1,"opacity":1},"encoding":{"shape":{"field":"s","type":"nominal","scale":{"domain":["MH","YK","YF"],"range":["circle","square","triangle-up"]}},"fill":{"field":"s","type":"nominal","scale":{"domain":["MH","YK","YF"],"range":["white","black","white"]}},"size":{"field":"s","type":"nominal","scale":{"type":"ordinal","domain":["YF","MH","YK"],"range":[26,75,62]},"legend":null}}}
]},
{"data":{"name":"labs"},"transform":[{"filter":"datum.p==10"}],"mark":{"type":"text","align":"right","baseline":"alphabetic","font":"Liberation Serif","fontWeight":"bold","fontSize":17,"dy":-3},"encoding":{"x":{"datum":200,"type":"quantitative"},"y":{"datum":0,"type":"quantitative"},"text":{"field":"t"}}}
]},
{"width":205,"height":142,"layer":[{"encoding":{"x":{"field":"x","type":"quantitative","scale":{"domain":[0,200],"nice":false},"axis":{"title":null,"tickCount":20,"labelExpr":"datum.value % 50 === 0 ? datum.label : ''"}},"y":{"field":"y","type":"quantitative","scale":{"domain":[0,0.12],"nice":false},"axis":{"title":null,"tickCount":6}}},"layer":[
{"data":{"name":"pts"},"transform":[{"filter":"datum.p==11"}],"mark":{"type":"errorbar","color":"#8c8c8c","thickness":1.3},"encoding":{"yError":{"field":"e"}}},
{"data":{"name":"fit"},"transform":[{"filter":"datum.p==11"}],"mark":{"type":"line","interpolate":"monotone"},"encoding":{"stroke":{"field":"s","type":"nominal","scale":{"domain":["YF","YK","MH"],"range":["#8f8f8f","#000000","#000000"]},"legend":null},"strokeDash":{"field":"s","type":"nominal","scale":{"domain":["YF","YK","MH"],"range":[[1,0],[1,0],[2,3]]},"legend":null},"strokeWidth":{"field":"s","type":"nominal","scale":{"type":"ordinal","domain":["YF","YK","MH"],"range":[2.8,2.2,1.3]},"legend":null}}},
{"data":{"name":"pts"},"transform":[{"filter":"datum.p==11"}],"mark":{"type":"point","filled":true,"stroke":"black","strokeWidth":1,"opacity":1},"encoding":{"shape":{"field":"s","type":"nominal","scale":{"domain":["MH","YK","YF"],"range":["circle","square","triangle-up"]}},"fill":{"field":"s","type":"nominal","scale":{"domain":["MH","YK","YF"],"range":["white","black","white"]}},"size":{"field":"s","type":"nominal","scale":{"type":"ordinal","domain":["YF","MH","YK"],"range":[26,75,62]},"legend":null}}}
]},
{"data":{"name":"labs"},"transform":[{"filter":"datum.p==11"}],"mark":{"type":"text","align":"right","baseline":"alphabetic","font":"Liberation Serif","fontWeight":"bold","fontSize":17,"dy":-3},"encoding":{"x":{"datum":200,"type":"quantitative"},"y":{"datum":0,"type":"quantitative"},"text":{"field":"t"}}}
]},
{"width":205,"height":142,"layer":[{"encoding":{"x":{"field":"x","type":"quantitative","scale":{"domain":[0,200],"nice":false},"axis":{"title":null,"tickCount":20,"labelExpr":"datum.value % 50 === 0 ? datum.label : ''"}},"y":{"field":"y","type":"quantitative","scale":{"domain":[0,0.12],"nice":false},"axis":{"labels":false,"title":null,"tickCount":6}}},"layer":[
{"data":{"name":"pts"},"transform":[{"filter":"datum.p==12"}],"mark":{"type":"errorbar","color":"#8c8c8c","thickness":1.3},"encoding":{"yError":{"field":"e"}}},
{"data":{"name":"fit"},"transform":[{"filter":"datum.p==12"}],"mark":{"type":"line","interpolate":"monotone"},"encoding":{"stroke":{"field":"s","type":"nominal","scale":{"domain":["YF","YK","MH"],"range":["#8f8f8f","#000000","#000000"]},"legend":null},"strokeDash":{"field":"s","type":"nominal","scale":{"domain":["YF","YK","MH"],"range":[[1,0],[1,0],[2,3]]},"legend":null},"strokeWidth":{"field":"s","type":"nominal","scale":{"type":"ordinal","domain":["YF","YK","MH"],"range":[2.8,2.2,1.3]},"legend":null}}},
{"data":{"name":"pts"},"transform":[{"filter":"datum.p==12"}],"mark":{"type":"point","filled":true,"stroke":"black","strokeWidth":1,"opacity":1},"encoding":{"shape":{"field":"s","type":"nominal","scale":{"domain":["MH","YK","YF"],"range":["circle","square","triangle-up"]}},"fill":{"field":"s","type":"nominal","scale":{"domain":["MH","YK","YF"],"range":["white","black","white"]}},"size":{"field":"s","type":"nominal","scale":{"type":"ordinal","domain":["YF","MH","YK"],"range":[26,75,62]},"legend":null}}}
]},
{"data":{"name":"labs"},"transform":[{"filter":"datum.p==12"}],"mark":{"type":"text","align":"right","baseline":"alphabetic","font":"Liberation Serif","fontWeight":"bold","fontSize":17,"dy":-3},"encoding":{"x":{"datum":200,"type":"quantitative"},"y":{"datum":0,"type":"quantitative"},"text":{"field":"t"}}}
]},
{"width":205,"height":142,"layer":[{"encoding":{"x":{"field":"x","type":"quantitative","scale":{"domain":[0,200],"nice":false},"axis":{"title":"ISI (ms)","titleX":109,"tickCount":20,"labelExpr":"datum.value % 50 === 0 ? datum.label : ''"}},"y":{"field":"y","type":"quantitative","scale":{"domain":[0,0.12],"nice":false},"axis":{"labels":false,"title":null,"tickCount":6}}},"layer":[
{"data":{"name":"pts"},"transform":[{"filter":"datum.p==13"}],"mark":{"type":"errorbar","color":"#8c8c8c","thickness":1.3},"encoding":{"yError":{"field":"e"}}},
{"data":{"name":"fit"},"transform":[{"filter":"datum.p==13"}],"mark":{"type":"line","interpolate":"monotone"},"encoding":{"stroke":{"field":"s","type":"nominal","scale":{"domain":["YF","YK","MH"],"range":["#8f8f8f","#000000","#000000"]},"legend":null},"strokeDash":{"field":"s","type":"nominal","scale":{"domain":["YF","YK","MH"],"range":[[1,0],[1,0],[2,3]]},"legend":null},"strokeWidth":{"field":"s","type":"nominal","scale":{"type":"ordinal","domain":["YF","YK","MH"],"range":[2.8,2.2,1.3]},"legend":null}}},
{"data":{"name":"pts"},"transform":[{"filter":"datum.p==13"}],"mark":{"type":"point","filled":true,"stroke":"black","strokeWidth":1,"opacity":1},"encoding":{"shape":{"field":"s","type":"nominal","scale":{"domain":["MH","YK","YF"],"range":["circle","square","triangle-up"]}},"fill":{"field":"s","type":"nominal","scale":{"domain":["MH","YK","YF"],"range":["white","black","white"]}},"size":{"field":"s","type":"nominal","scale":{"type":"ordinal","domain":["YF","MH","YK"],"range":[26,75,62]},"legend":null}}}
]},
{"data":{"name":"labs"},"transform":[{"filter":"datum.p==13"}],"mark":{"type":"text","align":"right","baseline":"alphabetic","font":"Liberation Serif","fontWeight":"bold","fontSize":17,"dy":-3},"encoding":{"x":{"datum":200,"type":"quantitative"},"y":{"datum":0,"type":"quantitative"},"text":{"field":"t"}}}
]},
{"width":205,"height":142,"layer":[{"encoding":{"x":{"field":"x","type":"quantitative","scale":{"domain":[0,200],"nice":false},"axis":{"title":null,"tickCount":20,"labelExpr":"datum.value % 50 === 0 ? datum.label : ''"}},"y":{"field":"y","type":"quantitative","scale":{"domain":[0,0.12],"nice":false},"axis":{"labels":false,"title":null,"tickCount":6}}},"layer":[
{"data":{"name":"pts"},"transform":[{"filter":"datum.p==14"}],"mark":{"type":"errorbar","color":"#8c8c8c","thickness":1.3},"encoding":{"yError":{"field":"e"}}},
{"data":{"name":"fit"},"transform":[{"filter":"datum.p==14"}],"mark":{"type":"line","interpolate":"monotone"},"encoding":{"stroke":{"field":"s","type":"nominal","scale":{"domain":["YF","YK","MH"],"range":["#8f8f8f","#000000","#000000"]},"legend":null},"strokeDash":{"field":"s","type":"nominal","scale":{"domain":["YF","YK","MH"],"range":[[1,0],[1,0],[2,3]]},"legend":null},"strokeWidth":{"field":"s","type":"nominal","scale":{"type":"ordinal","domain":["YF","YK","MH"],"range":[2.8,2.2,1.3]},"legend":null}}},
{"data":{"name":"pts"},"transform":[{"filter":"datum.p==14"}],"mark":{"type":"point","filled":true,"stroke":"black","strokeWidth":1,"opacity":1},"encoding":{"shape":{"field":"s","type":"nominal","scale":{"domain":["MH","YK","YF"],"range":["circle","square","triangle-up"]}},"fill":{"field":"s","type":"nominal","scale":{"domain":["MH","YK","YF"],"range":["white","black","white"]}},"size":{"field":"s","type":"nominal","scale":{"type":"ordinal","domain":["YF","MH","YK"],"range":[26,75,62]},"legend":null}}}
]},
{"data":{"name":"labs"},"transform":[{"filter":"datum.p==14"}],"mark":{"type":"text","align":"right","baseline":"alphabetic","font":"Liberation Serif","fontWeight":"bold","fontSize":17,"dy":-3},"encoding":{"x":{"datum":200,"type":"quantitative"},"y":{"datum":0,"type":"quantitative"},"text":{"field":"t"}}}
]},
{"width":205,"height":142,"layer":[{"encoding":{"x":{"field":"x","type":"quantitative","scale":{"domain":[0,200],"nice":false},"axis":{"title":null,"tickCount":20,"labelExpr":"datum.value % 50 === 0 ? datum.label : ''"}},"y":{"field":"y","type":"quantitative","scale":{"domain":[0,0.12],"nice":false},"axis":{"labels":false,"title":null,"tickCount":6}}},"layer":[
{"data":{"name":"pts"},"transform":[{"filter":"datum.p==15"}],"mark":{"type":"errorbar","color":"#8c8c8c","thickness":1.3},"encoding":{"yError":{"field":"e"}}},
{"data":{"name":"fit"},"transform":[{"filter":"datum.p==15"}],"mark":{"type":"line","interpolate":"monotone"},"encoding":{"stroke":{"field":"s","type":"nominal","scale":{"domain":["YF","YK","MH"],"range":["#8f8f8f","#000000","#000000"]},"legend":null},"strokeDash":{"field":"s","type":"nominal","scale":{"domain":["YF","YK","MH"],"range":[[1,0],[1,0],[2,3]]},"legend":null},"strokeWidth":{"field":"s","type":"nominal","scale":{"type":"ordinal","domain":["YF","YK","MH"],"range":[2.8,2.2,1.3]},"legend":null}}},
{"data":{"name":"pts"},"transform":[{"filter":"datum.p==15"}],"mark":{"type":"point","filled":true,"stroke":"black","strokeWidth":1,"opacity":1},"encoding":{"shape":{"field":"s","type":"nominal","scale":{"domain":["MH","YK","YF"],"range":["circle","square","triangle-up"]}},"fill":{"field":"s","type":"nominal","scale":{"domain":["MH","YK","YF"],"range":["white","black","white"]}},"size":{"field":"s","type":"nominal","scale":{"type":"ordinal","domain":["YF","MH","YK"],"range":[26,75,62]},"legend":null}}}
]},
{"data":{"name":"labs"},"transform":[{"filter":"datum.p==15"}],"mark":{"type":"text","align":"right","baseline":"alphabetic","font":"Liberation Serif","fontWeight":"bold","fontSize":17,"dy":-3},"encoding":{"x":{"datum":200,"type":"quantitative"},"y":{"datum":0,"type":"quantitative"},"text":{"field":"t"}}}
]}
],
"config":{
"view":{"stroke":null},
"legend":{"labelFont":"Liberation Serif","labelFontSize":27,"labelColor":"black","labelOffset":10,"columnPadding":34,"padding":0,"symbolSize":110,"symbolStrokeWidth":1.2},
"axis":{"domainColor":"black","domainWidth":1,"tickColor":"black","tickWidth":1,"grid":false,"labelFont":"Liberation Serif","labelFontWeight":"bold","labelFontSize":12,"labelColor":"black","titleFont":"Liberation Serif","titleFontWeight":"normal","titleFontSize":31,"titleColor":"black","labelFlush":false,"labelOverlap":false,"labelBound":false},
"axisX":{"tickSize":-5,"labelPadding":20,"titlePadding":24},
"axisY":{"tickSize":-5,"labelPadding":15,"titlePadding":15}
}
}
